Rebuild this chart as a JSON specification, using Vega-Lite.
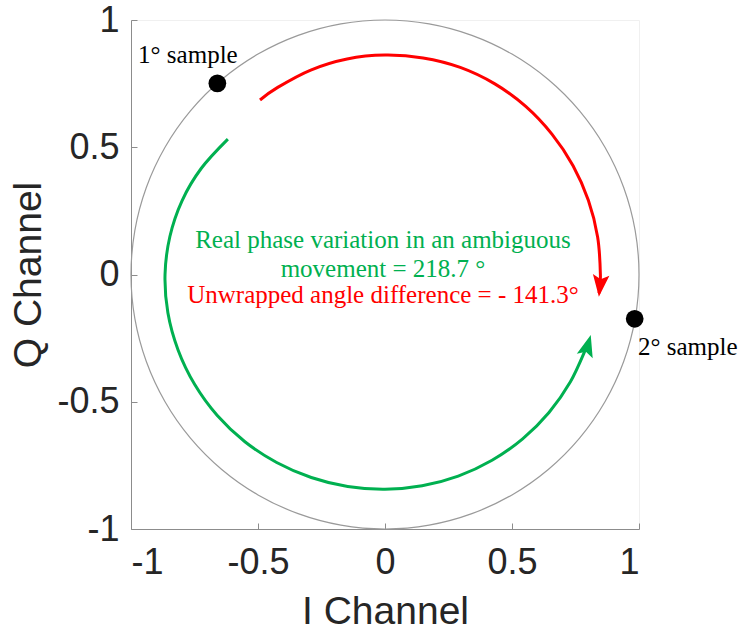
{
  "$schema": "https://vega.github.io/schema/vega-lite/v6.json",
  "autosize": {"type": "none"},
  "width": 508,
  "height": 509,
  "padding": {"left": 131, "top": 20, "right": 109, "bottom": 101},
  "background": "white",
  "config": {
    "view": {"stroke": "#f0f0f0", "strokeWidth": 1},
    "axis": {
      "labelFont": "Liberation Sans",
      "titleFont": "Liberation Sans",
      "labelFontSize": 36,
      "titleFontSize": 39,
      "titleFontWeight": "normal",
      "labelColor": "#262626",
      "titleColor": "#262626",
      "domainColor": "#8c8c8c",
      "tickColor": "#8c8c8c",
      "domainWidth": 1,
      "tickWidth": 1,
      "tickSize": -6,
      "grid": false
    }
  },
  "datasets": {
    "circle": [
      {"o": 0, "x": 1, "y": 0},
      {"o": 1, "x": 0.9848, "y": 0.1736},
      {"o": 2, "x": 0.9397, "y": 0.342},
      {"o": 3, "x": 0.866, "y": 0.5},
      {"o": 4, "x": 0.766, "y": 0.6428},
      {"o": 5, "x": 0.6428, "y": 0.766},
      {"o": 6, "x": 0.5, "y": 0.866},
      {"o": 7, "x": 0.342, "y": 0.9397},
      {"o": 8, "x": 0.1736, "y": 0.9848},
      {"o": 9, "x": 0, "y": 1},
      {"o": 10, "x": -0.1736, "y": 0.9848},
      {"o": 11, "x": -0.342, "y": 0.9397},
      {"o": 12, "x": -0.5, "y": 0.866},
      {"o": 13, "x": -0.6428, "y": 0.766},
      {"o": 14, "x": -0.766, "y": 0.6428},
      {"o": 15, "x": -0.866, "y": 0.5},
      {"o": 16, "x": -0.9397, "y": 0.342},
      {"o": 17, "x": -0.9848, "y": 0.1736},
      {"o": 18, "x": -1, "y": 0},
      {"o": 19, "x": -0.9848, "y": -0.1736},
      {"o": 20, "x": -0.9397, "y": -0.342},
      {"o": 21, "x": -0.866, "y": -0.5},
      {"o": 22, "x": -0.766, "y": -0.6428},
      {"o": 23, "x": -0.6428, "y": -0.766},
      {"o": 24, "x": -0.5, "y": -0.866},
      {"o": 25, "x": -0.342, "y": -0.9397},
      {"o": 26, "x": -0.1736, "y": -0.9848},
      {"o": 27, "x": 0, "y": -1},
      {"o": 28, "x": 0.1736, "y": -0.9848},
      {"o": 29, "x": 0.342, "y": -0.9397},
      {"o": 30, "x": 0.5, "y": -0.866},
      {"o": 31, "x": 0.6428, "y": -0.766},
      {"o": 32, "x": 0.766, "y": -0.6428},
      {"o": 33, "x": 0.866, "y": -0.5},
      {"o": 34, "x": 0.9397, "y": -0.342},
      {"o": 35, "x": 0.9848, "y": -0.1736}
    ],
    "arcs": [
      {"s": "red", "o": 0, "x": -0.4921, "y": 0.6857},
      {"s": "red", "o": 1, "x": -0.424, "y": 0.7344},
      {"s": "red", "o": 2, "x": -0.2924, "y": 0.8034},
      {"s": "red", "o": 3, "x": -0.1493, "y": 0.8469},
      {"s": "red", "o": 4, "x": 0, "y": 0.862},
      {"s": "red", "o": 5, "x": 0.15, "y": 0.8509},
      {"s": "red", "o": 6, "x": 0.2962, "y": 0.8138},
      {"s": "red", "o": 7, "x": 0.4325, "y": 0.7491},
      {"s": "red", "o": 8, "x": 0.5541, "y": 0.6603},
      {"s": "red", "o": 9, "x": 0.6572, "y": 0.5515},
      {"s": "red", "o": 10, "x": 0.7404, "y": 0.4275},
      {"s": "red", "o": 11, "x": 0.8006, "y": 0.2914},
      {"s": "red", "o": 12, "x": 0.8371, "y": 0.1476},
      {"s": "red", "o": 13, "x": 0.848, "y": 0},
      {"s": "red", "o": 14, "x": 0.8428, "y": -0.0738},
      {"s": "green", "o": 0, "x": -0.6186, "y": 0.5321},
      {"s": "green", "o": 1, "x": -0.7231, "y": 0.4175},
      {"s": "green", "o": 2, "x": -0.7987, "y": 0.2907},
      {"s": "green", "o": 3, "x": -0.8469, "y": 0.1493},
      {"s": "green", "o": 4, "x": -0.866, "y": 0},
      {"s": "green", "o": 5, "x": -0.8548, "y": -0.1507},
      {"s": "green", "o": 6, "x": -0.8147, "y": -0.2965},
      {"s": "green", "o": 7, "x": -0.7491, "y": -0.4325},
      {"s": "green", "o": 8, "x": -0.6603, "y": -0.5541},
      {"s": "green", "o": 9, "x": -0.5515, "y": -0.6572},
      {"s": "green", "o": 10, "x": -0.4265, "y": -0.7387},
      {"s": "green", "o": 11, "x": -0.2904, "y": -0.7978},
      {"s": "green", "o": 12, "x": -0.1469, "y": -0.8331},
      {"s": "green", "o": 13, "x": 0, "y": -0.844},
      {"s": "green", "o": 14, "x": 0.1463, "y": -0.8302},
      {"s": "green", "o": 15, "x": 0.2883, "y": -0.7922},
      {"s": "green", "o": 16, "x": 0.4215, "y": -0.73},
      {"s": "green", "o": 17, "x": 0.5419, "y": -0.6457},
      {"s": "green", "o": 18, "x": 0.6457, "y": -0.5419},
      {"s": "green", "o": 19, "x": 0.73, "y": -0.4215},
      {"s": "green", "o": 20, "x": 0.7922, "y": -0.2883},
      {"s": "green", "o": 21, "x": 0.8018, "y": -0.2605}
    ],
    "samples": [
      {"x": -0.66, "y": 0.751, "label": "1° sample", "lx": -0.972, "ly": 0.831},
      {"x": 0.983, "y": -0.174, "label": "2° sample", "lx": 0.996, "ly": -0.316}
    ],
    "notes": [
      {"s": "green", "x": -0.008, "y": 0.104, "label": "Real phase variation in an ambiguous"},
      {"s": "green", "x": -0.008, "y": -0.01, "label": "movement = 218.7 °"},
      {"s": "red", "x": -0.008, "y": -0.112, "label": "Unwrapped angle difference = - 141.3°"}
    ]
  },
  "layer": [
    {
      "data": {"name": "circle"},
      "mark": {"type": "line", "interpolate": "cardinal-closed", "color": "#9a9a9a", "strokeWidth": 1.2, "clip": false},
      "encoding": {
        "x": {"field": "x", "type": "quantitative", "scale": {"domain": [-1, 1], "nice": false, "zero": false},
              "axis": {"values": [-1, -0.5, 0, 0.5, 1], "title": "I Channel", "labelPadding": 22, "titlePadding": 12,
                       "labelExpr": "datum.value < 0 ? '-' + format(-datum.value, '~g') : format(datum.value, '~g')"}},
        "y": {"field": "y", "type": "quantitative", "scale": {"domain": [-1, 1], "nice": false, "zero": false},
              "axis": {"values": [-1, -0.5, 0, 0.5, 1], "title": "Q Channel", "labelPadding": 18, "titlePadding": 8,
                       "labelExpr": "datum.value < 0 ? '-' + format(-datum.value, '~g') : format(datum.value, '~g')"}},
        "order": {"field": "o", "type": "quantitative"}
      }
    },
    {
      "data": {"name": "arcs"},
      "mark": {"type": "line", "interpolate": "cardinal", "strokeWidth": 3},
      "encoding": {
        "x": {"field": "x", "type": "quantitative"},
        "y": {"field": "y", "type": "quantitative"},
        "order": {"field": "o", "type": "quantitative"},
        "detail": {"field": "s"},
        "color": {"field": "s", "type": "nominal", "scale": {"domain": ["red", "green"], "range": ["#ff0000", "#00b050"]}, "legend": null}
      }
    },
    {
      "data": {"values": [{"x": 0.842, "y": -0.087}]},
      "mark": {"type": "point", "shape": "M0,0L-0.38,-1L0,-0.8L0.38,-1Z", "filled": true, "color": "#ff0000", "opacity": 1, "size": 1900, "angle": 6},
      "encoding": {"x": {"field": "x", "type": "quantitative"}, "y": {"field": "y", "type": "quantitative"}}
    },
    {
      "data": {"values": [{"x": 0.81, "y": -0.238}]},
      "mark": {"type": "point", "shape": "M0,0L-0.38,-1L0,-0.8L0.38,-1Z", "filled": true, "color": "#00b050", "opacity": 1, "size": 1900, "angle": 196},
      "encoding": {"x": {"field": "x", "type": "quantitative"}, "y": {"field": "y", "type": "quantitative"}}
    },
    {
      "data": {"name": "samples"},
      "mark": {"type": "point", "shape": "circle", "filled": true, "color": "#000000", "opacity": 1, "size": 314},
      "encoding": {"x": {"field": "x", "type": "quantitative"}, "y": {"field": "y", "type": "quantitative"}}
    },
    {
      "data": {"name": "samples"},
      "mark": {"type": "text", "font": "Liberation Serif", "fontSize": 25, "color": "#000000", "align": "left", "baseline": "alphabetic"},
      "encoding": {"x": {"field": "lx", "type": "quantitative"}, "y": {"field": "ly", "type": "quantitative"}, "text": {"field": "label"}}
    },
    {
      "data": {"name": "notes"},
      "mark": {"type": "text", "font": "Liberation Serif", "fontSize": 25, "align": "center", "baseline": "alphabetic"},
      "encoding": {
        "x": {"field": "x", "type": "quantitative"},
        "y": {"field": "y", "type": "quantitative"},
        "text": {"field": "label"},
        "color": {"field": "s", "type": "nominal", "scale": {"domain": ["red", "green"], "range": ["#ff0000", "#00b050"]}, "legend": null}
      }
    }
  ]
}
